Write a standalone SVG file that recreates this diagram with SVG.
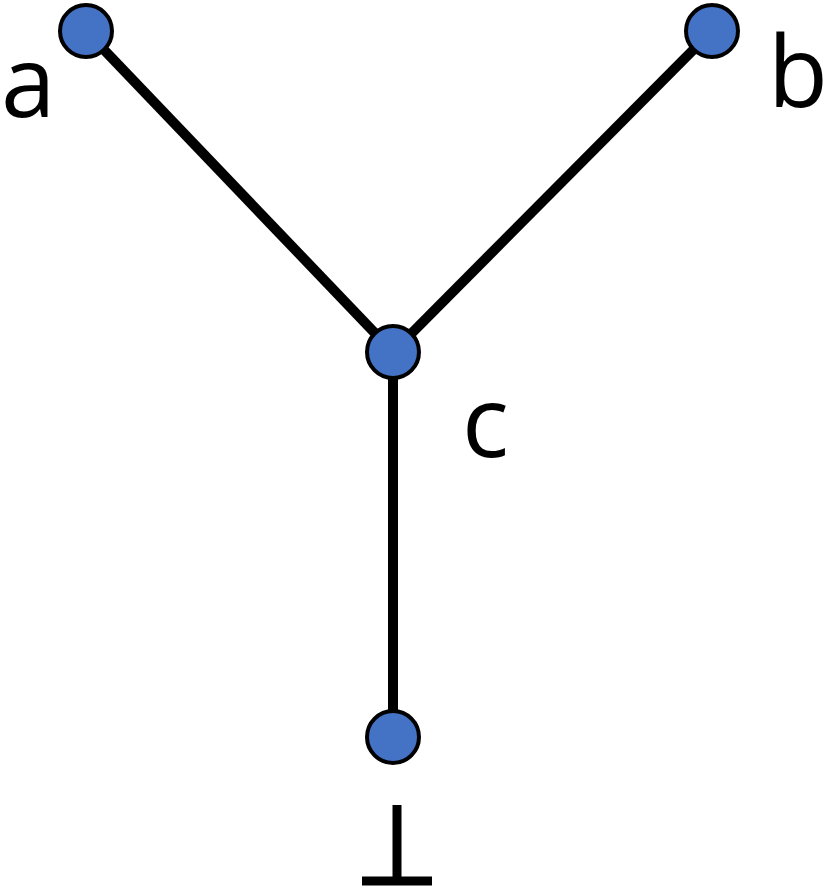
<svg xmlns="http://www.w3.org/2000/svg" width="830" height="887" viewBox="0 0 830 887">
<style>
.n{fill:#4472C4;stroke:#000;stroke-width:4}
.e{stroke:#000;stroke-width:10;fill:none}
.t{font-family:"Open Sans","Liberation Sans",sans-serif;font-size:98px;fill:#000}
</style>
<rect width="830" height="887" fill="#fff"/>
<g id="connectors">
<line class="e" x1="86" y1="31" x2="393" y2="352"/>
<line class="e" x1="712" y1="31" x2="393" y2="352"/>
<line class="e" x1="393" y1="352" x2="393" y2="737"/>
</g>
<g id="a"><circle class="n" cx="86" cy="31" r="26"/><text class="t" x="1" y="117">a</text></g>
<g id="b"><circle class="n" cx="712" cy="31" r="26"/><text class="t" x="768" y="107">b</text></g>
<g id="c"><circle class="n" cx="393" cy="352" r="26"/><text class="t" x="462" y="457">c</text></g>
<g id="bottom"><circle class="n" cx="393" cy="737" r="26"/>
<line x1="397" y1="805" x2="397" y2="882" stroke="#000" stroke-width="9"/>
<line x1="362" y1="881" x2="432" y2="881" stroke="#000" stroke-width="9"/>
</g>
</svg>
